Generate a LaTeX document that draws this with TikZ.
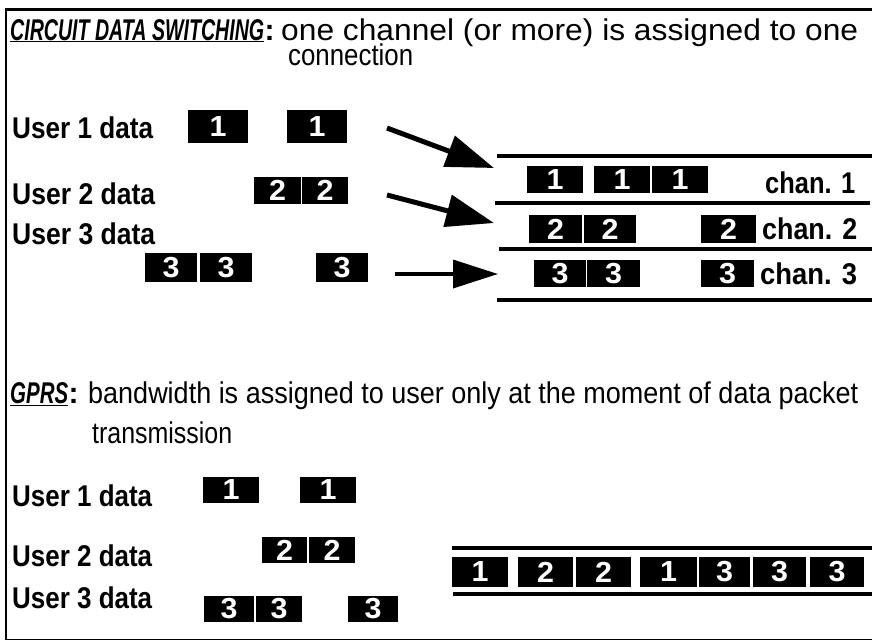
\documentclass[tikz,border=0pt]{standalone}
\usepackage{fontspec}
\setmainfont{Liberation Sans}
\usetikzlibrary{arrows.meta}
% stretch a piece of text to a given width, keeping its height
\newcommand{\fitw}[2]{\resizebox{#1}{\height}{#2}}
% same, with the depth of the line dropped
\newcommand{\fitwnd}[2]{\raisebox{0pt}[\height][0pt]{\resizebox{#1}{\height}{#2}}}
% slightly widened digit for the packet boxes
\newcommand{\dg}[1]{\scalebox{1.05}[1]{#1}}

\begin{document}
\begin{tikzpicture}[x=1pt,y=-1pt,
  pkt/.style={fill=black, text=white, inner sep=0pt,
    font=\fontsize{29}{29}\selectfont\bfseries},
  lbl/.style={anchor=base west, inner sep=0pt},
  headfont/.style={font=\fontsize{30}{30}\selectfont},
  titlefont/.style={font=\fontsize{30}{30}\selectfont},
  userfont/.style={font=\fontsize{30}{30}\selectfont\bfseries},
  chanline/.style={line width=4pt},
  bigarrow/.style={line width=5pt, -{Triangle[length=48pt,width=32pt]}},
  flatarrow/.style={line width=3.5pt, -{Triangle[length=45pt,width=28pt]}}
]
\useasboundingbox (0,0) rectangle (872,641);

% frame
\draw[line width=2.5pt] (5,9.5) -- (872,9.5);
\draw[line width=2pt] (6,8.5) -- (6,639.5);
\draw[line width=1.5pt] (5,639.5) -- (872,639.5);

% ---------- circuit data switching ----------
\node[lbl,titlefont] (cdsHead) at (10,40)
  {\fitw{254pt}{\underline{\textbf{\textit{CIRCUIT DATA SWITCHING}}}}};
\node[lbl,titlefont] (cdsColon) at (cdsHead.base east) {\textbf{:}};
\node[lbl,headfont] (cdsText) at (281,40)
  {\fitwnd{577pt}{one channel (or more) is assigned to one}};
\node[lbl,headfont] (cdsText2) at (288,65) {\fitw{125pt}{connection}};

\node[lbl,userfont] (cu1) at (12,138) {\fitw{141pt}{User 1 data}};
\node[lbl,userfont] (cu2) at (12,204) {\fitw{143pt}{User 2 data}};
\node[lbl,userfont] (cu3) at (12,244) {\fitw{143pt}{User 3 data}};

\node[pkt,minimum width=60pt,minimum height=33pt] (cu1a) at (218,126.5) {\dg{1}};
\node[pkt,minimum width=60pt,minimum height=33pt] (cu1b) at (317,126.5) {\dg{1}};
\node[pkt,minimum width=47pt,minimum height=27pt] (cu2a) at (277.5,190.5) {\dg{2}};
\node[pkt,minimum width=46pt,minimum height=27pt] (cu2b) at (325,190.5) {\dg{2}};
\node[pkt,minimum width=52pt,minimum height=29pt] (cu3a) at (171,267.5) {\dg{3}};
\node[pkt,minimum width=52pt,minimum height=29pt] (cu3b) at (226,267.5) {\dg{3}};
\node[pkt,minimum width=52pt,minimum height=29pt] (cu3c) at (342,267.5) {\dg{3}};

% arrows into the channels
\coordinate (a1s) at (387,128);
\coordinate (a1e) at (494,168);
\coordinate (a2s) at (387,195);
\coordinate (a2e) at (494,223);
\coordinate (a3s) at (395,274);
\coordinate (a3e) at (498,274);
\draw[bigarrow] (a1s) -- (a1e);
\draw[bigarrow] (a2s) -- (a2e);
\draw[flatarrow] (a3s) -- (a3e);

% channel borders
\coordinate (ch0l) at (497,156); \coordinate (ch0r) at (872,156);
\coordinate (ch1l) at (495,203); \coordinate (ch1r) at (870,203);
\coordinate (ch2l) at (499,249); \coordinate (ch2r) at (872,249);
\coordinate (ch3l) at (497,300); \coordinate (ch3r) at (872,300);
\draw[chanline] (ch0l) -- (ch0r);
\draw[chanline] (ch1l) -- (ch1r);
\draw[chanline] (ch2l) -- (ch2r);
\draw[chanline] (ch3l) -- (ch3r);

\node[pkt,minimum width=56pt,minimum height=27pt] (c1a) at (555,179.5) {\dg{1}};
\node[pkt,minimum width=56pt,minimum height=27pt] (c1b) at (622,179.5) {\dg{1}};
\node[pkt,minimum width=56pt,minimum height=27pt] (c1c) at (680,179.5) {\dg{1}};
\node[pkt,minimum width=53pt,minimum height=28pt] (c2a) at (555.5,229) {\dg{2}};
\node[pkt,minimum width=52pt,minimum height=28pt] (c2b) at (610,229) {\dg{2}};
\node[pkt,minimum width=55pt,minimum height=28pt] (c2c) at (728.5,229) {\dg{2}};
\node[pkt,minimum width=52pt,minimum height=27pt] (c3a) at (560,273.5) {\dg{3}};
\node[pkt,minimum width=53pt,minimum height=27pt] (c3b) at (613.5,273.5) {\dg{3}};
\node[pkt,minimum width=53pt,minimum height=27pt] (c3c) at (727.5,273.5) {\dg{3}};

\node[lbl,userfont] (ch1) at (765,193) {\fitw{90pt}{chan. 1}};
\node[lbl,userfont] (ch2) at (762,239) {\fitw{95pt}{chan. 2}};
\node[lbl,userfont] (ch3) at (760,284) {\fitw{97pt}{chan. 3}};

% ---------- GPRS ----------
\node[lbl,titlefont] (gprsHead) at (10,403)
  {\fitw{58pt}{\underline{\textbf{\textit{GPRS}}}}};
\node[lbl,titlefont] (gprsColon) at (gprsHead.base east) {\textbf{:}};
\node[lbl,headfont] (gprsText) at (88,403)
  {\fitw{770pt}{bandwidth is assigned to user only at the moment of data packet}};
\node[lbl,headfont] (gprsText2) at (92,443) {\fitw{140pt}{transmission}};

\node[lbl,userfont] (gu1) at (12,506) {\fitw{140pt}{User 1 data}};
\node[lbl,userfont] (gu2) at (12,566) {\fitw{140pt}{User 2 data}};
\node[lbl,userfont] (gu3) at (12,608) {\fitw{140pt}{User 3 data}};

\node[pkt,minimum width=56pt,minimum height=26pt] (gu1a) at (231,490) {\dg{1}};
\node[pkt,minimum width=56pt,minimum height=26pt] (gu1b) at (328,490) {\dg{1}};
\node[pkt,minimum width=45pt,minimum height=26pt] (gu2a) at (284.5,550) {\dg{2}};
\node[pkt,minimum width=46pt,minimum height=26pt] (gu2b) at (332,550) {\dg{2}};
\node[pkt,minimum width=50pt,minimum height=26pt] (gu3a) at (229,609) {\dg{3}};
\node[pkt,minimum width=46pt,minimum height=26pt] (gu3b) at (279,609) {\dg{3}};
\node[pkt,minimum width=50pt,minimum height=26pt] (gu3c) at (373,609) {\dg{3}};

% shared channel
\coordinate (gl0l) at (452,548); \coordinate (gl0r) at (872,548);
\coordinate (gl1l) at (453,594); \coordinate (gl1r) at (872,594);
\draw[chanline] (gl0l) -- (gl0r);
\draw[chanline] (gl1l) -- (gl1r);

\node[pkt,minimum width=56pt,minimum height=30pt] (s1) at (480,572) {\dg{1}};
\node[pkt,minimum width=55pt,minimum height=30pt] (s2) at (545.5,572) {\dg{2}};
\node[pkt,minimum width=55pt,minimum height=30pt] (s3) at (603.5,572) {\dg{2}};
\node[pkt,minimum width=57pt,minimum height=30pt] (s4) at (668.5,572) {\dg{1}};
\node[pkt,minimum width=51pt,minimum height=30pt] (s5) at (724.5,572) {\dg{3}};
\node[pkt,minimum width=53pt,minimum height=30pt] (s6) at (779.5,572) {\dg{3}};
\node[pkt,minimum width=54pt,minimum height=30pt] (s7) at (837,572) {\dg{3}};
\end{tikzpicture}
\end{document}
